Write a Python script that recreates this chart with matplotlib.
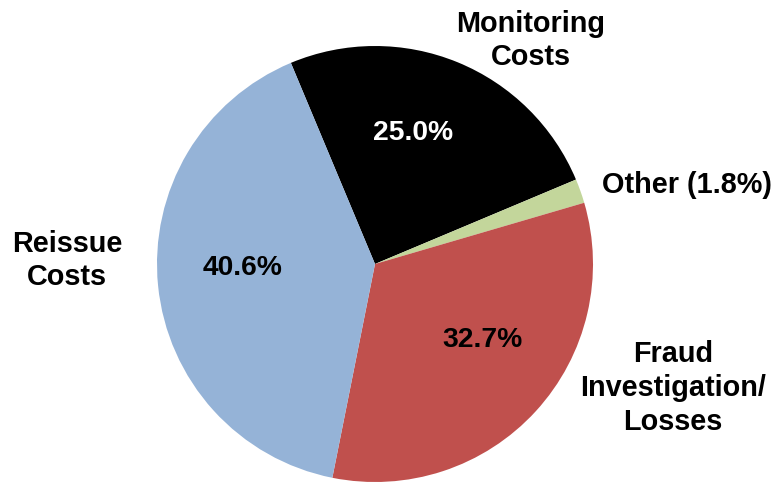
import matplotlib
matplotlib.use('Agg')
import matplotlib.pyplot as plt

labels = ['Monitoring\nCosts', 'Other (1.8%)', 'Fraud\nInvestigation/\nLosses', 'Reissue\nCosts']
values = [25.0, 1.8, 32.7, 40.6]
colors = ['#000000', '#c3d69b', '#c0504d', '#95b3d7']
pct_colors = ['white', 'black', 'black', 'black']

plt.rcParams['font.family'] = ['Liberation Sans', 'DejaVu Sans']
plt.rcParams['font.weight'] = 'bold'

H = 485
fig = plt.figure(figsize=(7.79, 4.85), dpi=100)
ax = fig.add_axes([0, 0, 1, 1])

# pie drawn in pixel-like coords (y up)
cx, cy, r = 375, 220, 218
wedges, _ = ax.pie(values, colors=colors, startangle=112.7, counterclock=False,
                   center=(cx, cy), radius=r, frame=True)
ax.set_xlim(0, 779)
ax.set_ylim(0, H)
ax.set_aspect('equal')
ax.axis('off')

# percentage labels: (x center, baseline from top)
pct_pos = [(413, 140), None, (483, 347), (243, 275)]
for v, p, c in zip(values, pct_pos, pct_colors):
    if p is None:
        continue
    ax.text(p[0], H - p[1], f'{v:.1f}%', ha='center', va='baseline',
            fontsize=20.3, color=c, fontweight='bold')

# category labels: x, first baseline from top, line step, alignment
label_pos = [(531, 32, 33, 'center'), (602, 193, 33, 'left'),
             (673, 362, 34, 'center'), (67, 252, 33, 'center')]
for lab, (x, y0, dy, ha) in zip(labels, label_pos):
    for i, line in enumerate(lab.split('\n')):
        ax.text(x, H - (y0 + i * dy), line, ha=ha, va='baseline',
                fontsize=20.8, fontweight='bold')

fig.savefig('out.png', dpi=100)
